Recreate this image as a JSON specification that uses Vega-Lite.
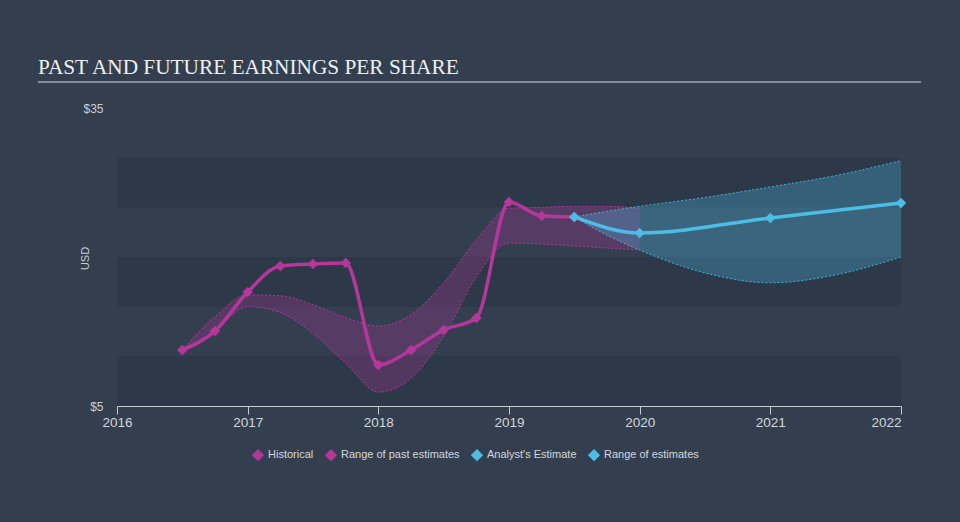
{
  "$schema": "https://vega.github.io/schema/vega-lite/v6.json",
  "width": 784,
  "height": 298,
  "autosize": {"type": "none"},
  "padding": {"left": 117, "top": 108, "right": 59, "bottom": 116},
  "background": "#333f4f",
  "title": {
    "text": "PAST AND FUTURE EARNINGS PER SHARE",
    "font": "Liberation Serif",
    "fontSize": 21.3,
    "fontWeight": "normal",
    "color": "#eef0f2",
    "anchor": "start",
    "frame": "group",
    "dx": -79,
    "dy": 19,
    "offset": 22
  },
  "datasets": {
    "bands": [
      {"lo": 5, "hi": 10},
      {"lo": 15, "hi": 20},
      {"lo": 25, "hi": 30}
    ],
    "hist": [
      {"t": 2016.5, "v": 10.64},
      {"t": 2016.75, "v": 12.55},
      {"t": 2017.0, "v": 16.48},
      {"t": 2017.25, "v": 19.1},
      {"t": 2017.5, "v": 19.3},
      {"t": 2017.75, "v": 19.4},
      {"t": 2018.0, "v": 9.13},
      {"t": 2018.25, "v": 10.64},
      {"t": 2018.5, "v": 12.65},
      {"t": 2018.75, "v": 13.86},
      {"t": 2019.0, "v": 25.54},
      {"t": 2019.25, "v": 24.13},
      {"t": 2019.5, "v": 24.03}
    ],
    "est": [
      {"t": 2019.5, "v": 24.03},
      {"t": 2020.0, "v": 22.42},
      {"t": 2021.0, "v": 23.93},
      {"t": 2022.0, "v": 25.44}
    ],
    "pastRange": [
      {"t": 2016.5, "lo": 10.64, "hi": 10.64},
      {"t": 2016.75, "lo": 12.6, "hi": 14.0},
      {"t": 2017.0, "lo": 15.0, "hi": 16.2},
      {"t": 2017.25, "lo": 14.4, "hi": 16.1},
      {"t": 2017.5, "lo": 12.3, "hi": 15.2},
      {"t": 2017.75, "lo": 9.3, "hi": 13.9},
      {"t": 2018.0, "lo": 6.4, "hi": 13.05},
      {"t": 2018.25, "lo": 7.8, "hi": 14.2},
      {"t": 2018.5, "lo": 12.0, "hi": 17.4},
      {"t": 2018.75, "lo": 18.0, "hi": 21.7},
      {"t": 2019.0, "lo": 21.4, "hi": 24.9},
      {"t": 2019.25, "lo": 21.3, "hi": 25.0},
      {"t": 2019.5, "lo": 21.1, "hi": 25.1},
      {"t": 2019.75, "lo": 20.9, "hi": 25.1},
      {"t": 2020.0, "lo": 20.7, "hi": 24.9}
    ],
    "futRange": [
      {"t": 2019.5, "lo": 24.03, "hi": 24.03},
      {"t": 2019.75, "lo": 22.2, "hi": 24.6},
      {"t": 2020.0, "lo": 20.7, "hi": 25.1},
      {"t": 2020.5, "lo": 18.4, "hi": 26.0},
      {"t": 2021.0, "lo": 17.4, "hi": 27.05},
      {"t": 2021.5, "lo": 18.2, "hi": 28.2},
      {"t": 2022.0, "lo": 20.0, "hi": 29.7}
    ],
    "underline": [
      {"t": 2015.395, "t2": 2022.153, "v": 37.62}
    ]
  },
  "config": {
    "view": {"stroke": null},
    "font": "Liberation Sans",
    "axis": {"grid": false, "labelFont": "Liberation Sans", "titleFont": "Liberation Sans"}
  },
  "layer": [
    {
      "data": {"name": "bands"},
      "mark": {"type": "rect", "color": "#2d3948"},
      "encoding": {
        "y": {"field": "lo", "type": "quantitative",
          "scale": {"domain": [5, 35], "nice": false, "zero": false},
          "axis": {
          "values": [5, 35],
          "labelExpr": "'$' + datum.value",
          "domain": false,
          "ticks": false,
          "labelPadding": 14,
          "labelColor": "#c9ced5",
          "labelFontSize": 12,
          "title": "USD",
          "titleColor": "#c9ced5",
          "titleFontSize": 11,
          "titleFontWeight": "normal",
          "titleX": -27,
          "titleY": 150
        }},
        "y2": {"field": "hi"}
      }
    },
    {
      "data": {"name": "pastRange"},
      "mark": {"type": "area", "interpolate": "monotone", "color": "#b5379b", "fillOpacity": 0.28},
      "encoding": {
        "x": {"field": "t", "type": "quantitative",
          "scale": {"domain": [2016, 2022], "nice": false, "zero": false},
          "axis": {
          "orient": "bottom",
          "values": [2016, 2017, 2018, 2019, 2020, 2021, 2022],
          "format": "d",
          "title": null,
          "domainColor": "#c5ccd4",
          "tickColor": "#c5ccd4",
          "tickSize": 8,
          "labelColor": "#d3d7dc",
          "labelFontSize": 13.5,
          "labelPadding": 1,
          "labelAlign": {"expr": "datum.value == 2022 ? 'right' : 'center'"}
        }},
        "y": {"field": "lo", "type": "quantitative"},
        "y2": {"field": "hi"}
      }
    },
    {
      "data": {"name": "pastRange"},
      "mark": {"type": "line", "interpolate": "monotone", "strokeDash": [2, 2], "strokeWidth": 1, "color": "#b5379b"},
      "encoding": {"x": {"field": "t", "type": "quantitative"}, "y": {"field": "lo", "type": "quantitative"}}
    },
    {
      "data": {"name": "pastRange"},
      "mark": {"type": "line", "interpolate": "monotone", "strokeDash": [2, 2], "strokeWidth": 1, "color": "#b5379b"},
      "encoding": {"x": {"field": "t", "type": "quantitative"}, "y": {"field": "hi", "type": "quantitative"}}
    },
    {
      "data": {"name": "futRange"},
      "mark": {"type": "area", "interpolate": "monotone", "color": "#4cbde6", "fillOpacity": 0.3},
      "encoding": {
        "x": {"field": "t", "type": "quantitative"},
        "y": {"field": "lo", "type": "quantitative"},
        "y2": {"field": "hi"}
      }
    },
    {
      "data": {"name": "futRange"},
      "mark": {"type": "line", "interpolate": "monotone", "strokeDash": [2, 2], "strokeWidth": 1, "color": "#3fb4dc"},
      "encoding": {"x": {"field": "t", "type": "quantitative"}, "y": {"field": "lo", "type": "quantitative"}}
    },
    {
      "data": {"name": "futRange"},
      "mark": {"type": "line", "interpolate": "monotone", "strokeDash": [2, 2], "strokeWidth": 1, "color": "#3fb4dc"},
      "encoding": {"x": {"field": "t", "type": "quantitative"}, "y": {"field": "hi", "type": "quantitative"}}
    },
    {
      "data": {"name": "hist"},
      "mark": {"type": "line", "interpolate": "monotone", "strokeWidth": 3.5, "point": {"shape": "diamond", "size": 110, "filled": true}},
      "encoding": {
        "x": {"field": "t", "type": "quantitative"},
        "y": {"field": "v", "type": "quantitative"},
        "color": {"datum": "Historical", "type": "nominal"}
      }
    },
    {
      "data": {"name": "est"},
      "mark": {"type": "line", "interpolate": "monotone", "strokeWidth": 3.5, "point": {"shape": "diamond", "size": 110, "filled": true}},
      "encoding": {
        "x": {"field": "t", "type": "quantitative"},
        "y": {"field": "v", "type": "quantitative"},
        "color": {
          "datum": "Analyst's Estimate",
          "type": "nominal",
          "scale": {
            "domain": ["Historical", "Range of past estimates", "Analyst's Estimate", "Range of estimates"],
            "range": ["#b5379b", "#b5379b", "#4cbde6", "#4cbde6"]
          },
          "legend": {
            "title": null,
            "orient": "none",
            "direction": "horizontal",
            "legendX": 135,
            "legendY": 341,
            "labelColor": "#d3d7dc",
            "labelFont": "Liberation Sans",
            "labelFontSize": 11,
            "labelOffset": 4,
            "columnPadding": 8,
            "symbolType": "diamond",
            "symbolSize": 90,
            "symbolOpacity": 1,
            "symbolStrokeWidth": 2,
            "symbolFillColor": null
          }
        }
      }
    },
    {
      "data": {"name": "underline"},
      "mark": {"type": "rule", "color": "#a3aab3", "strokeWidth": 1.5},
      "encoding": {
        "x": {"field": "t", "type": "quantitative"},
        "x2": {"field": "t2"},
        "y": {"field": "v", "type": "quantitative"}
      }
    }
  ]
}
